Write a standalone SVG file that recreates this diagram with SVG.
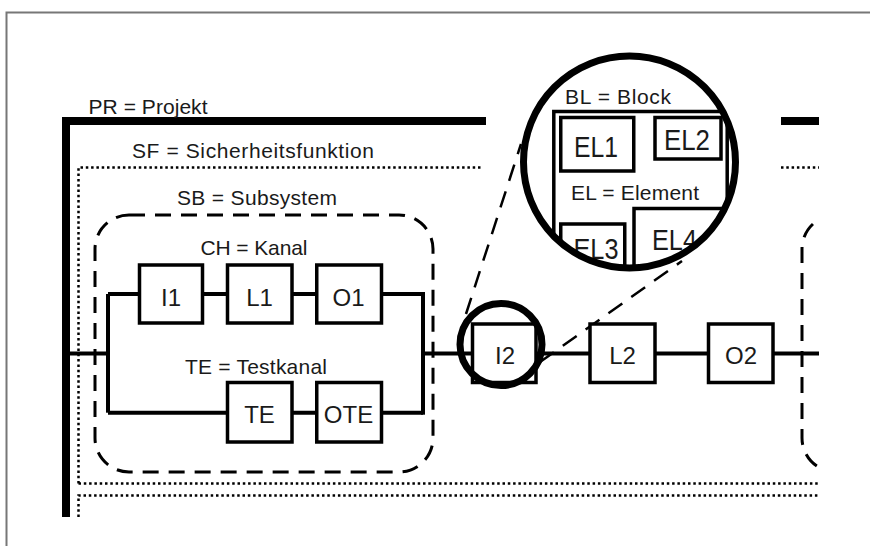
<svg xmlns="http://www.w3.org/2000/svg" width="870" height="546" viewBox="0 0 870 546">
<style>
  .lbl { font-family: "Liberation Sans", Arial, sans-serif; font-size: 21px; fill: #1a1a1a; text-anchor: middle; }
  .bx { font-family: "Liberation Sans", Arial, sans-serif; font-size: 24px; fill: #1a1a1a; text-anchor: middle; }
  .bxl { font-family: "Liberation Sans", Arial, sans-serif; font-size: 29px; fill: #1a1a1a; text-anchor: middle; }
  .box { fill: #fff; stroke: #000; stroke-width: 3.5; }
  .boxo { fill: none; stroke: #000; stroke-width: 3.5; }
  .wire { fill: none; stroke: #000; stroke-width: 4; }
  .thick { fill: none; stroke: #000; stroke-width: 8; }
  .dot { fill: none; stroke: #000; stroke-width: 2.5; stroke-dasharray: 2.5 2.8; }
  .dash { fill: none; stroke: #000; stroke-width: 3; stroke-dasharray: 16 10; }
  .cone { fill: none; stroke: #000; stroke-width: 2.5; stroke-dasharray: 17 11; }
</style>
<defs>
  <clipPath id="clipR"><rect x="0" y="0" width="819.5" height="546"/></clipPath>
  <clipPath id="clipC"><circle cx="629.5" cy="162" r="106"/></clipPath>
</defs>
<rect width="870" height="546" fill="#fff"/>
<path d="M6.5 546 V12.5 H870" fill="none" stroke="#777" stroke-width="2"/>

<g id="PR">
  <path class="thick" d="M66 517 V121 H486"/>
  <path class="thick" d="M781 121 H819"/>
  <text class="lbl" x="148" y="114" textLength="119">PR = Projekt</text>
</g>

<g id="SF">
  <path class="dot" d="M78.5 483.5 V167.5 H483"/>
  <path class="dot" d="M781 167.5 H819"/>
  <path class="dot" d="M78.5 483.5 H819"/>
  <text class="lbl" x="253" y="158" textLength="242">SF = Sicherheitsfunktion</text>
</g>
<g id="SF2">
  <path class="dot" d="M78.5 517 V495.5 H819"/>
</g>

<g id="SB">
  <rect class="dash" x="95" y="215" width="338" height="257" rx="34" ry="34"/>
  <text class="lbl" x="257" y="205" textLength="160">SB = Subsystem</text>
</g>
<g id="SB2" clip-path="url(#clipR)">
  <rect class="dash" x="802" y="215" width="300" height="257" rx="34" ry="34"/>
</g>

<g id="connectors">
  <path class="wire" d="M66 353.5 H108"/>
  <path class="wire" d="M108 294 V412.7"/>
  <path class="wire" d="M108 294 H139.5 M202.5 294 H227.5 M292 294 H316.75 M381.5 294 H423"/>
  <path class="wire" d="M108 412.7 H227.5 M292 412.7 H316.75 M381.5 412.7 H423"/>
  <path class="wire" d="M423 292 V414.7"/>
  <path class="wire" d="M423 353.5 H472.5 M536 353.5 H590 M655 353.5 H708.5 M773 353.5 H819"/>
  <path class="cone" d="M466 314 L521 144"/>
  <path class="cone" d="M540 362 L682 261"/>
</g>

<g id="CH">
  <text class="lbl" x="254" y="255" textLength="107">CH = Kanal</text>
</g>
<g id="TEch">
  <text class="lbl" x="256" y="374" textLength="142">TE = Testkanal</text>
</g>

<g id="I1"><rect class="box" x="139.5" y="265" width="63" height="58"/><text class="bx" x="171" y="306">I1</text></g>
<g id="L1"><rect class="box" x="227.5" y="265" width="64.5" height="58"/><text class="bx" x="259.5" y="306">L1</text></g>
<g id="O1"><rect class="box" x="316.75" y="265" width="64.75" height="58"/><text class="bx" x="348.5" y="306">O1</text></g>
<g id="TE"><rect class="box" x="227.5" y="382.5" width="64.5" height="59.5"/><text class="bx" x="259.5" y="423">TE</text></g>
<g id="OTE"><rect class="box" x="316.75" y="382.5" width="64.75" height="59.5"/><text class="bx" x="348.5" y="423">OTE</text></g>
<g id="I2"><rect class="box" x="472.5" y="324" width="63.5" height="58.5"/><text class="bx" x="505" y="364">I2</text></g>
<g id="L2"><rect class="box" x="590" y="324" width="65" height="58.5"/><text class="bx" x="622.5" y="364">L2</text></g>
<g id="O2"><rect class="box" x="708.5" y="324" width="64.5" height="58.5"/><text class="bx" x="741" y="364">O2</text></g>

<g id="lens-small">
  <circle cx="501" cy="344.5" r="41" fill="none" stroke="#000" stroke-width="7"/>
</g>

<g id="lens-big">
  <circle cx="629.5" cy="162" r="106" fill="#fff"/>
  <g clip-path="url(#clipC)">
    <g id="BL">
      <rect class="boxo" x="553.8" y="111.5" width="173.4" height="220"/>
      <text class="lbl" x="618" y="104" textLength="106">BL = Block</text>
    </g>
    <g id="EL1"><rect class="box" x="560.75" y="117.5" width="73" height="53.5"/><text class="bxl" x="596" y="157" textLength="44" lengthAdjust="spacingAndGlyphs">EL1</text></g>
    <g id="EL2"><rect class="box" x="655" y="117.5" width="66" height="41.5"/><text class="bxl" x="687" y="149.5" textLength="46" lengthAdjust="spacingAndGlyphs">EL2</text></g>
    <g id="EL"><text class="lbl" x="635" y="200" textLength="128">EL = Element</text></g>
    <g id="EL3"><rect class="box" x="560.75" y="224" width="64" height="70"/><text class="bxl" x="596" y="258.5" textLength="45" lengthAdjust="spacingAndGlyphs">EL3</text></g>
    <g id="EL4"><rect class="box" x="634" y="208.5" width="110" height="80"/><text class="bxl" x="674.5" y="250" textLength="45" lengthAdjust="spacingAndGlyphs">EL4</text></g>
  </g>
  <circle cx="629.5" cy="162" r="106" fill="none" stroke="#000" stroke-width="7"/>
</g>
</svg>
